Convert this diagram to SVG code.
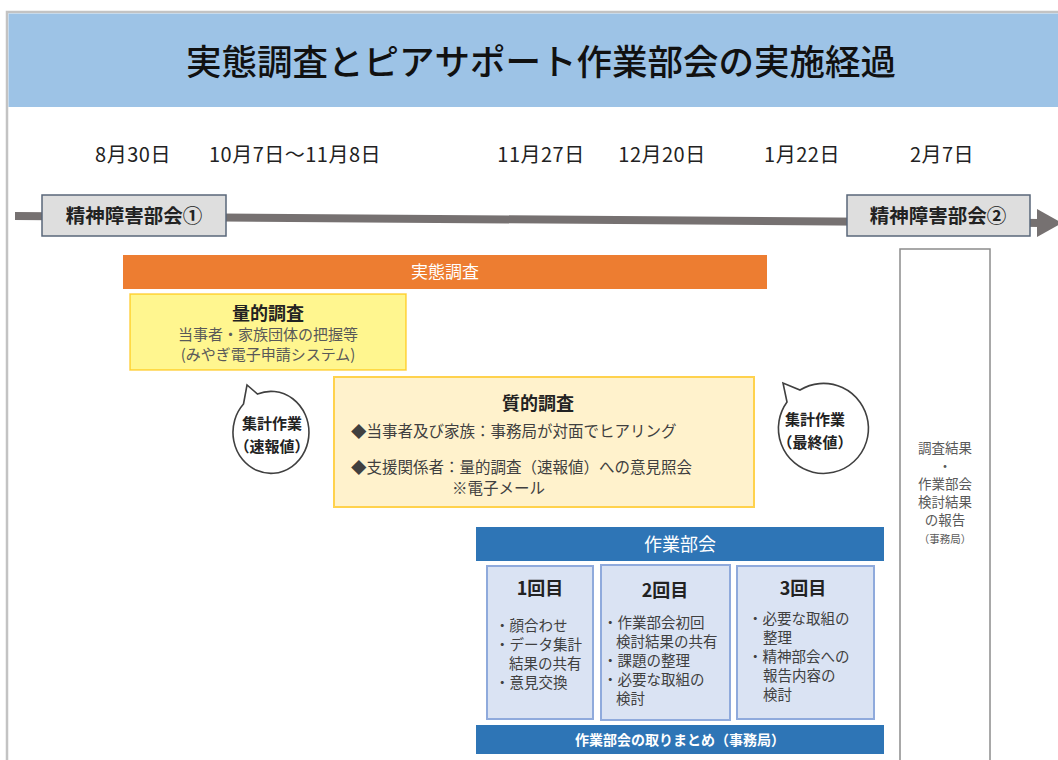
<svg xmlns="http://www.w3.org/2000/svg" width="1058" height="760" viewBox="0 0 1058 760">
<style>
text{font-family:"Noto Sans CJK JP","Noto Sans",sans-serif;}
.date{font-size:20px;fill:#222;letter-spacing:0.5px;}
.mtg{font-size:19.5px;font-weight:bold;fill:#222;}
.mtgbox{fill:#dedede;stroke:#59677a;stroke-width:1.5;}
.wh{fill:#fff;}
.body{font-size:15px;fill:#595959;}
.bt{font-size:14.5px;fill:#404040;}
.qt{font-size:15.5px;fill:#404040;}
.sub{fill:#dae3f3;stroke:#8faadc;stroke-width:2;}
.bubble{fill:#fff;stroke:#404040;stroke-width:1.6;}
.bub{font-size:15px;font-weight:bold;fill:#222;}
</style>
<rect x="0" y="0" width="1058" height="760" fill="#fff"/>
<path d="M7 760 V12 H1058" fill="none" stroke="#c3c3c3" stroke-width="2.5"/>
<g id="header">
<rect x="8.5" y="13.5" width="1050" height="93.5" fill="#9dc3e6"/>
<text x="541" y="75" font-size="35.5" font-weight="500" text-anchor="middle" fill="#111">実態調査とピアサポート作業部会の実施経過</text>
</g>
<g id="dates" text-anchor="middle">
<text class="date" x="133" y="162">8月30日</text>
<text class="date" x="295" y="162">10月7日～11月8日</text>
<text class="date" x="541" y="162">11月27日</text>
<text class="date" x="662" y="162">12月20日</text>
<text class="date" x="802" y="162">1月22日</text>
<text class="date" x="942" y="162">2月7日</text>
</g>
<g id="connectors">
<polygon points="15,212 1040,219 1040,227 15,220" fill="#767171"/>
<polygon points="1037,209 1062,223 1037,237" fill="#767171"/>
</g>
<g id="bukai1">
<rect class="mtgbox" x="42" y="195" width="184" height="41"/>
<text class="mtg" x="134" y="223" text-anchor="middle">精神障害部会①</text>
</g>
<g id="bukai2">
<rect class="mtgbox" x="847" y="195" width="183" height="41"/>
<text class="mtg" x="938" y="223" text-anchor="middle">精神障害部会②</text>
</g>
<g id="jittai">
<rect x="123" y="255" width="644" height="34" fill="#ed7d31"/>
<text x="445" y="278" font-size="17" class="wh" text-anchor="middle">実態調査</text>
</g>
<g id="ryouteki">
<rect x="130" y="294" width="276" height="76" fill="#fff68f" stroke="#ffc000" stroke-width="1.5" stroke-opacity="0.7"/>
<text x="268" y="320" font-size="18" font-weight="bold" fill="#222" text-anchor="middle">量的調査</text>
<text class="body" x="268" y="340" text-anchor="middle">当事者・家族団体の把握等</text>
<text class="body" x="268" y="360" text-anchor="middle">(みやぎ電子申請システム)</text>
</g>
<g id="shituteki">
<rect x="334" y="377" width="420" height="130" fill="#fff2cc" stroke="#ffd24d" stroke-width="2"/>
<text x="538" y="410" font-size="18" font-weight="bold" fill="#222" text-anchor="middle">質的調査</text>
<text class="qt" x="351" y="437">◆当事者及び家族：事務局が対面でヒアリング</text>
<text class="qt" x="351" y="473">◆支援関係者：量的調査（速報値）への意見照会</text>
<text class="qt" x="452" y="494">※電子メール</text>
</g>
<g id="bubble1">
<path class="bubble" d="M243.5 404 L247 385 L257.5 394 A38 41 0 1 1 243.5 404 Z"/>
<text class="bub" x="272" y="429" text-anchor="middle">集計作業</text>
<text class="bub" x="272" y="452" text-anchor="middle">（速報値）</text>
</g>
<g id="bubble2">
<path class="bubble" d="M787 402 L783 383 L800 390 A45 45 0 1 1 787 402 Z"/>
<text class="bub" x="815" y="425" text-anchor="middle">集計作業</text>
<text class="bub" x="815" y="448" text-anchor="middle">（最終値）</text>
</g>
<g id="sagyoubukai">
<rect x="476" y="527" width="408" height="34" fill="#2e75b6"/>
<text x="680" y="551" font-size="18" class="wh" text-anchor="middle">作業部会</text>
</g>
<g id="kai1">
<rect class="sub" x="487" y="566" width="106" height="153"/>
<text x="540" y="595" font-size="18" font-weight="bold" fill="#222" text-anchor="middle">1回目</text>
<text class="bt" x="495" y="631">・顔合わせ</text>
<text class="bt" x="495" y="650">・データ集計</text>
<text class="bt" x="509" y="669">結果の共有</text>
<text class="bt" x="495" y="688">・意見交換</text>
</g>
<g id="kai2">
<rect class="sub" x="601" y="565" width="129" height="155"/>
<text x="665" y="597" font-size="18" font-weight="bold" fill="#222" text-anchor="middle">2回目</text>
<text class="bt" x="603" y="628">・作業部会初回</text>
<text class="bt" x="616" y="647">検討結果の共有</text>
<text class="bt" x="603" y="666">・課題の整理</text>
<text class="bt" x="603" y="685">・必要な取組の</text>
<text class="bt" x="616" y="704">検討</text>
</g>
<g id="kai3">
<rect class="sub" x="737" y="566" width="137" height="153"/>
<text x="803" y="595" font-size="18" font-weight="bold" fill="#222" text-anchor="middle">3回目</text>
<text class="bt" x="748" y="624">・必要な取組の</text>
<text class="bt" x="763" y="643">整理</text>
<text class="bt" x="748" y="662">・精神部会への</text>
<text class="bt" x="763" y="681">報告内容の</text>
<text class="bt" x="763" y="700">検討</text>
</g>
<g id="torimatome">
<rect x="476" y="725" width="408" height="29" fill="#2e75b6"/>
<text x="680" y="745" font-size="14" font-weight="bold" class="wh" text-anchor="middle">作業部会の取りまとめ（事務局）</text>
</g>
<g id="houkoku">
<rect x="900" y="249" width="90" height="520" fill="#fff" stroke="#8c8c8c" stroke-width="1.5"/>
<g text-anchor="middle" font-size="13.5" fill="#595959">
<text x="945" y="453">調査結果</text>
<text x="945" y="471">・</text>
<text x="945" y="489">作業部会</text>
<text x="945" y="507">検討結果</text>
<text x="945" y="525">の報告</text>
<text x="945" y="543" font-size="10.5">（事務局）</text>
</g>
</g>
</svg>
